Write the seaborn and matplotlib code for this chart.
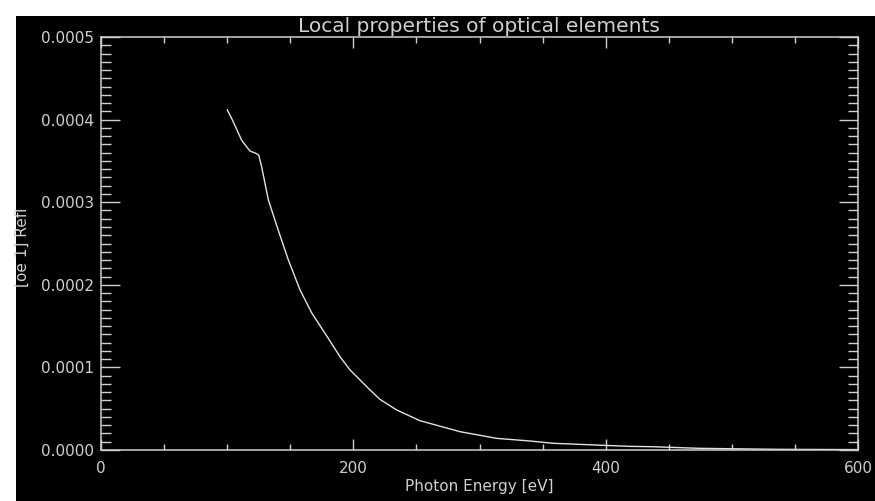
import matplotlib
matplotlib.use("Agg")
import matplotlib.pyplot as plt
from matplotlib.patches import Rectangle
from matplotlib.ticker import MultipleLocator, FormatStrFormatter
import seaborn as sns
import pandas as pd

# Reflectivity of optical element 1 versus photon energy
energy_ev = [100, 104, 111.5, 118, 123, 125, 127.3, 132.6, 140.5, 148.5,
             157.7, 167, 180.2, 189.4, 197.4, 211.9, 221.1, 234.4, 252.8, 284.5,
             313.6, 340, 358.5, 392.9, 419.3, 436.4, 474.8, 538, 600]
reflectivity = [0.000412, 0.000400, 0.000375, 0.000362, 0.000359, 0.000357,
                0.000343, 0.000303, 0.000266, 0.000230, 0.000194,
                0.000166, 0.000135, 0.000113, 0.0000969, 0.0000747, 0.0000613,
                0.0000484, 0.0000355, 0.0000222, 0.0000141, 0.0000109,
                0.0000081, 0.0000060, 0.0000044, 0.0000040, 0.0000020,
                0.0000008, 0.0000005]

title_text = "Local properties of optical elements"
x_label = "Photon Energy [eV]"
y_label = "[oe 1] Refl"

df = pd.DataFrame({"energy": energy_ev, "refl": reflectivity})

sns.set_theme(style="dark")
plt.rcParams["font.family"] = ["DejaVu Sans"]

fg = "#cfcfcf"
W, H = 875, 501
fig = plt.figure(figsize=(W / 100, H / 100), dpi=100, facecolor="white")
fig.patches.append(Rectangle((16 / W, 0), 1, 1 - 16 / H, transform=fig.transFigure,
                             facecolor="black", edgecolor="none", zorder=-10))

left, right, top, bottom = 101, 858, 37, 450
ax = fig.add_axes([left / W, 1 - bottom / H, (right - left) / W, (bottom - top) / H])
ax.set_facecolor("black")

sns.lineplot(data=df, x="energy", y="refl", ax=ax, color="#e2e2e2", linewidth=1.0)

ax.set_xlim(0, 600)
ax.set_ylim(0, 0.0005)
ax.xaxis.set_major_locator(MultipleLocator(200))
ax.xaxis.set_minor_locator(MultipleLocator(50))
ax.yaxis.set_major_locator(MultipleLocator(0.0001))
ax.yaxis.set_minor_locator(MultipleLocator(0.00001))
ax.yaxis.set_major_formatter(FormatStrFormatter("%.4f"))
ax.xaxis.set_major_formatter(FormatStrFormatter("%d"))

ax.tick_params(axis="both", which="both", direction="in", colors=fg,
               top=True, right=True, bottom=True, left=True, width=1.0,
               labelsize=11, labelcolor=fg)
ax.tick_params(axis="x", which="major", length=8, pad=8)
ax.tick_params(axis="x", which="minor", length=4)
ax.tick_params(axis="y", which="major", length=14, pad=5)
ax.tick_params(axis="y", which="minor", length=7)
for s in ax.spines.values():
    s.set_color(fg)
    s.set_linewidth(1.1)
ax.grid(False)

ax.set_xlabel("")
ax.set_ylabel("")
fig.text(479 / W, 1 - 486 / H, x_label, color=fg, fontsize=11,
         ha="center", va="center")
fig.text(22 / W, 1 - 247 / H, y_label, color=fg, fontsize=11,
         ha="center", va="center", rotation=90)
fig.text(479 / W, 1 - 32 / H, title_text, color=fg, fontsize=14.5,
         ha="center", va="baseline")

fig.savefig("out.png", dpi=100, facecolor="white")
